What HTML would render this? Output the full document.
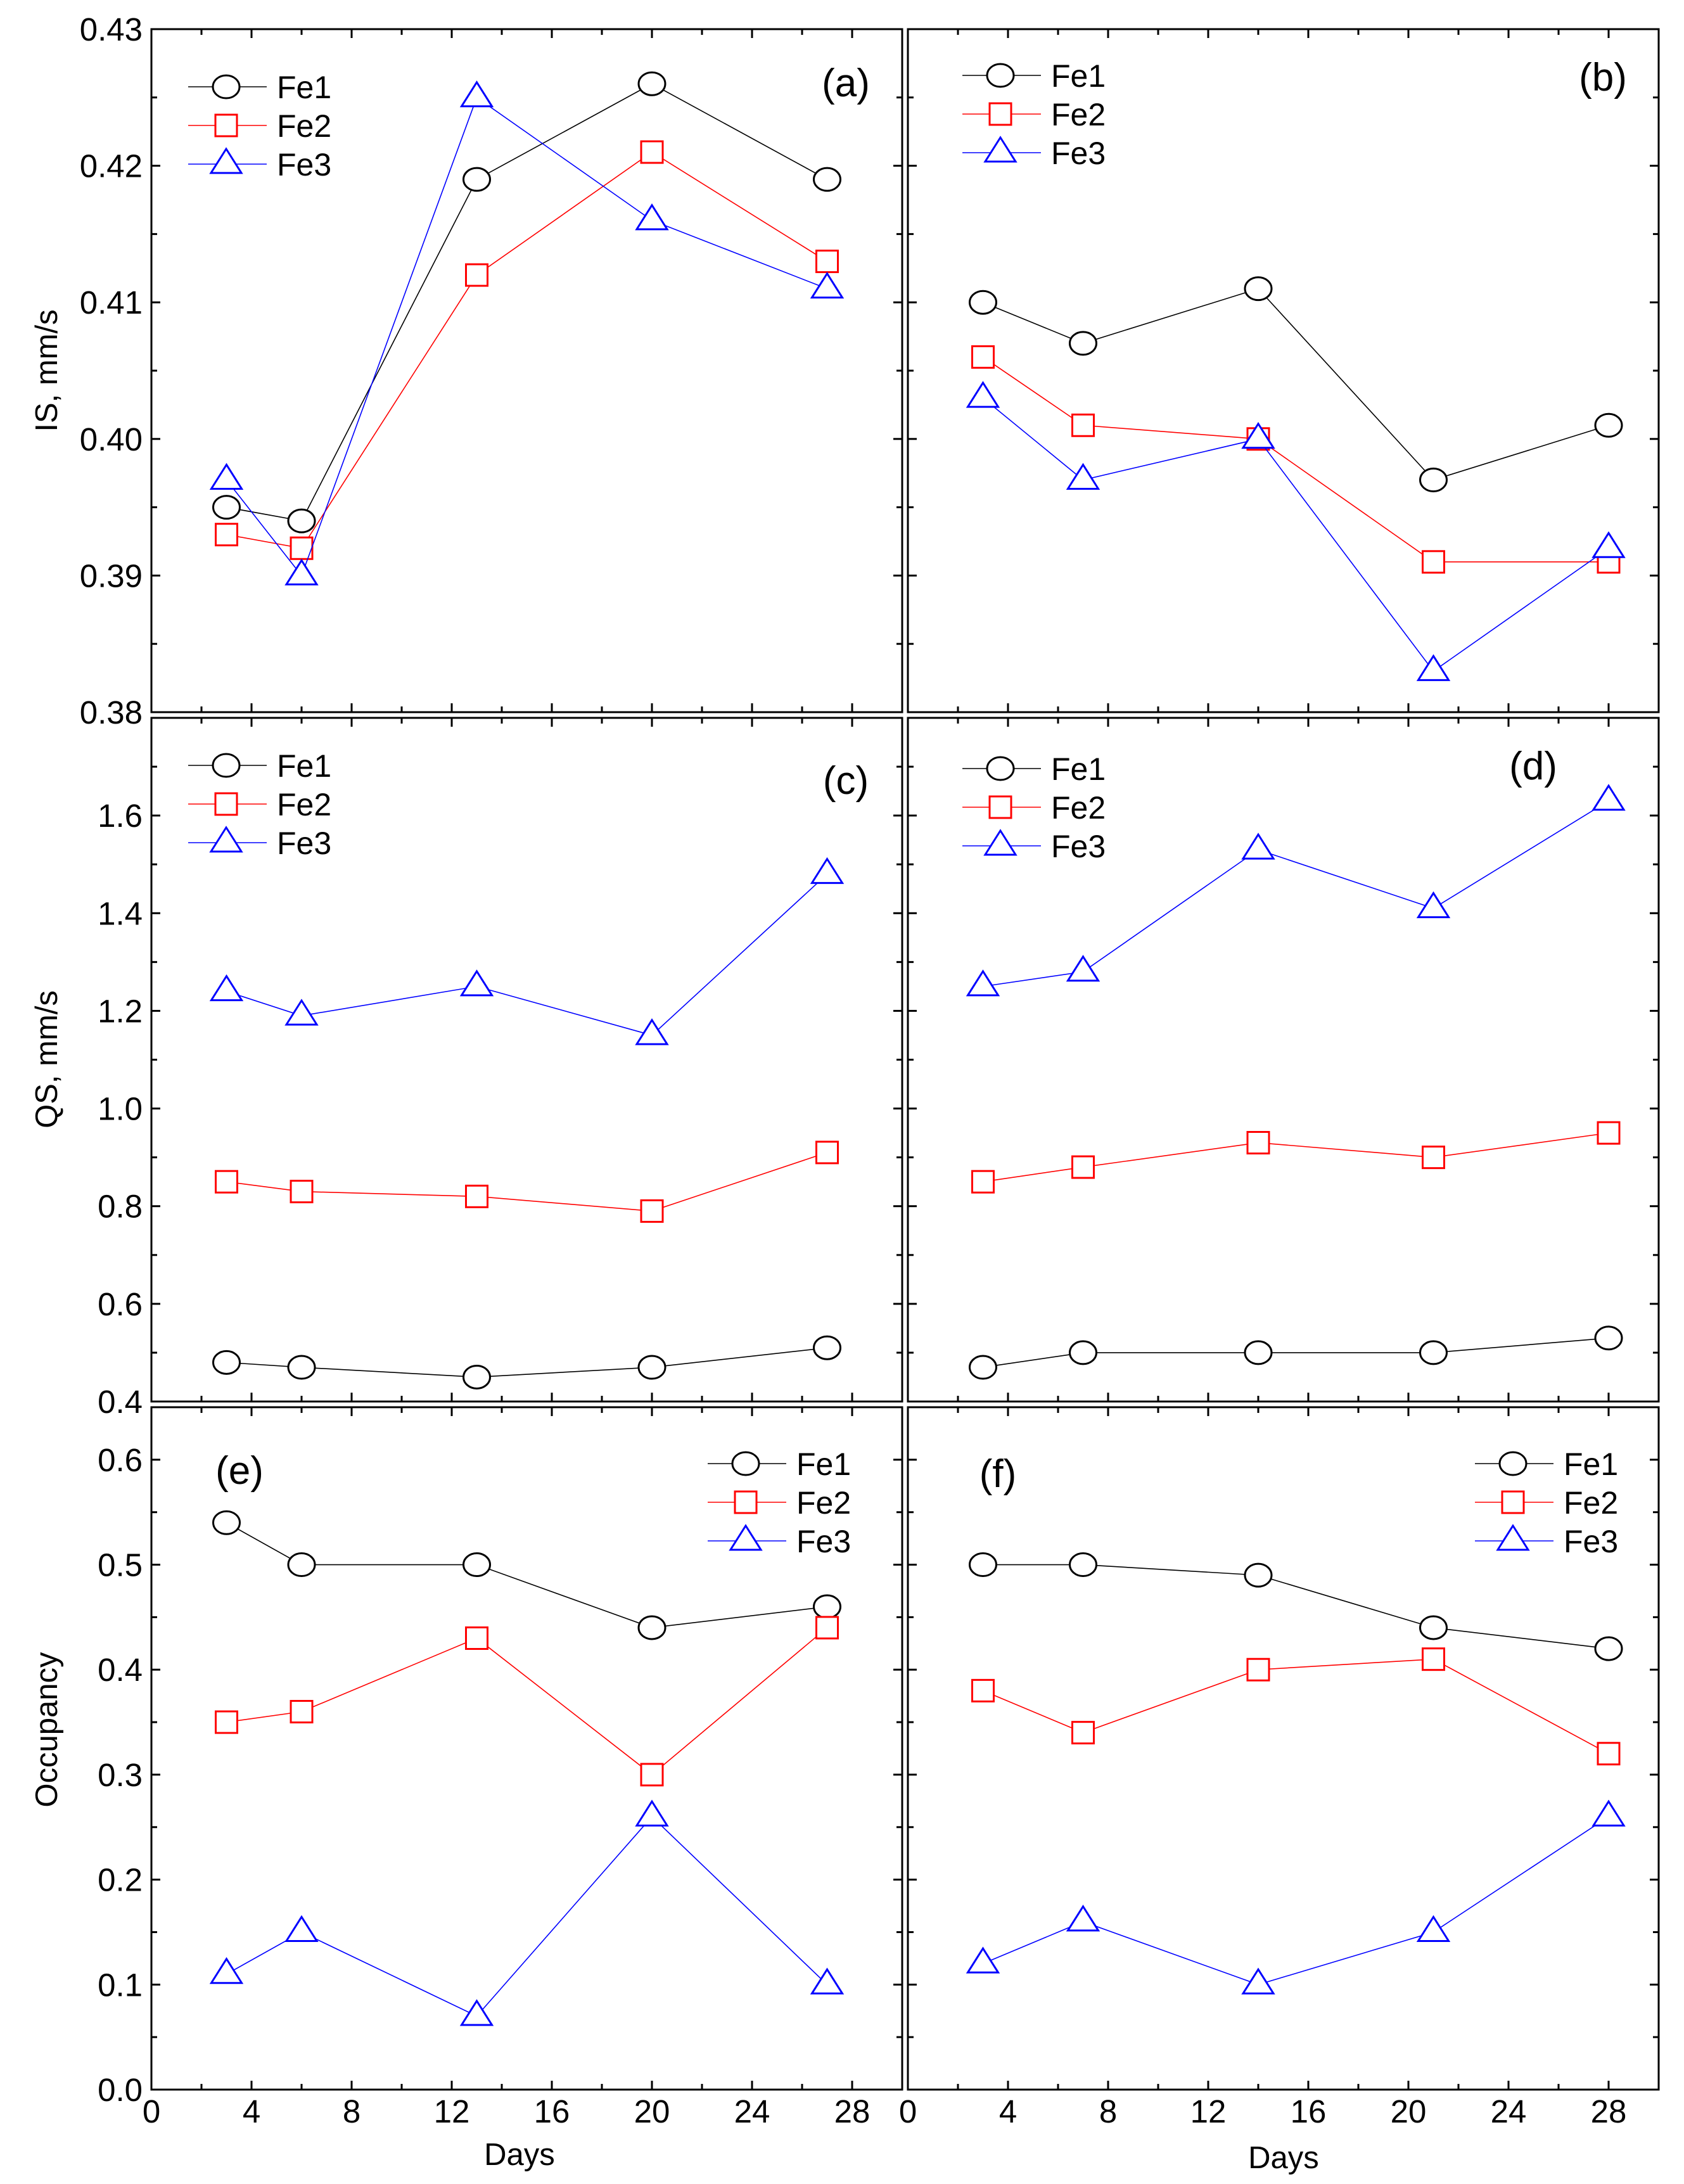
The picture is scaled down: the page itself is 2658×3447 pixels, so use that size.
<!DOCTYPE html>
<html><head><meta charset="utf-8">
<style>
html,body{margin:0;padding:0;background:#fff;}
svg{display:block;font-family:"Liberation Sans",Arial,sans-serif;}
</style></head>
<body>
<svg id="fig" xmlns="http://www.w3.org/2000/svg" width="2658" height="3447" viewBox="0 0 2658 3447">
<rect width="2658" height="3447" fill="#fff"/>
</svg>
<script>
const daysA = [3, 6, 13, 20, 27];
const daysB = [3, 7, 14, 21, 28];
const isA_Fe1 = [0.395, 0.394, 0.419, 0.426, 0.419];
const isA_Fe2 = [0.393, 0.392, 0.412, 0.421, 0.413];
const isA_Fe3 = [0.397, 0.390, 0.425, 0.416, 0.411];
const isB_Fe1 = [0.410, 0.407, 0.411, 0.397, 0.401];
const isB_Fe2 = [0.406, 0.401, 0.400, 0.391, 0.391];
const isB_Fe3 = [0.403, 0.397, 0.400, 0.383, 0.392];
const qsC_Fe1 = [0.48, 0.47, 0.45, 0.47, 0.51];
const qsC_Fe2 = [0.85, 0.83, 0.82, 0.79, 0.91];
const qsC_Fe3 = [1.24, 1.19, 1.25, 1.15, 1.48];
const qsD_Fe1 = [0.47, 0.50, 0.50, 0.50, 0.53];
const qsD_Fe2 = [0.85, 0.88, 0.93, 0.90, 0.95];
const qsD_Fe3 = [1.25, 1.28, 1.53, 1.41, 1.63];
const occE_Fe1 = [0.54, 0.50, 0.50, 0.44, 0.46];
const occE_Fe2 = [0.35, 0.36, 0.43, 0.30, 0.44];
const occE_Fe3 = [0.11, 0.15, 0.07, 0.26, 0.10];
const occF_Fe1 = [0.50, 0.50, 0.49, 0.44, 0.42];
const occF_Fe2 = [0.38, 0.34, 0.40, 0.41, 0.32];
const occF_Fe3 = [0.12, 0.16, 0.10, 0.15, 0.26];
const xTicks = [0, 4, 8, 12, 16, 20, 24, 28];
const isTicks = ["0.38", "0.39", "0.40", "0.41", "0.42", "0.43"];
const qsTicks = ["0.4", "0.6", "0.8", "1.0", "1.2", "1.4", "1.6"];
const occTicks = ["0.0", "0.1", "0.2", "0.3", "0.4", "0.5", "0.6"];
const seriesNames = ["Fe1", "Fe2", "Fe3"];

const NS = "http://www.w3.org/2000/svg";
const svg = document.getElementById("fig");
function mk(tag, attrs, parent, text) {
  const e = document.createElementNS(NS, tag);
  for (const k in attrs) e.setAttribute(k, attrs[k]);
  if (text !== undefined) e.textContent = text;
  (parent || svg).appendChild(e);
  return e;
}
const colors = ["#000", "#ff0000", "#0000ff"];
const cols = [[239, 1424], [1433, 2618]];
const rows = [[46, 1124], [1133, 2212], [2221, 3298]];

function marker(g, type, cx, cy, color) {
  let m;
  if (type === 0) m = mk("ellipse", {cx: cx, cy: cy, rx: 21, ry: 18, fill: "#fff", stroke: color, "stroke-width": 3}, g);
  else if (type === 1) m = mk("rect", {x: cx - 17, y: cy - 17, width: 34, height: 34, fill: "#fff", stroke: color, "stroke-width": 3}, g);
  else m = mk("polygon", {points: (cx - 24) + "," + (cy + 14) + " " + (cx + 24) + "," + (cy + 14) + " " + cx + "," + (cy - 24), fill: "#fff", stroke: color, "stroke-width": 3}, g);
  
  
}

function panel(opts) {
  const [x0, x1] = cols[opts.col];
  const [y0, y1] = rows[opts.row];
  const g = mk("g", {});
  
  
  const sx = v => x0 + (v - 0) / 30 * (x1 - x0);
  const sy = v => y1 - (v - opts.ymin) / (opts.ymax - opts.ymin) * (y1 - y0);
  for (let v = 2; v < 30; v += 2) {
    const major = v % 4 === 0;
    const L = major ? 14 : 9;
    mk("line", {x1: sx(v), x2: sx(v), y1: y1, y2: y1 - L, stroke: "#000", "stroke-width": 3}, g);
    mk("line", {x1: sx(v), x2: sx(v), y1: y0, y2: y0 + L, stroke: "#000", "stroke-width": 3}, g);
  }
  const step = opts.ystep;
  for (let i = 1; ; i++) {
    const v = opts.ymin + i * step / 2;
    if (v >= opts.ymax - 1e-9) break;
    const L = i % 2 === 0 ? 14 : 9;
    mk("line", {x1: x0, x2: x0 + L, y1: sy(v), y2: sy(v), stroke: "#000", "stroke-width": 3}, g);
    mk("line", {x1: x1, x2: x1 - L, y1: sy(v), y2: sy(v), stroke: "#000", "stroke-width": 3}, g);
  }
  const fr = mk("rect", {x: x0, y: y0, width: x1 - x0, height: y1 - y0, fill: "none", stroke: "#000", "stroke-width": 3}, g);
  
  
  if (opts.ylabels) {
    opts.ylabels.forEach(t => {
      const tx = mk("text", {x: x0 - 14, y: sy(parseFloat(t)) + 18, "text-anchor": "end", "font-size": 51}, g, t);
      
      
    });
  }
  if (opts.xlabels) {
    xTicks.forEach(t => {
      const tx = mk("text", {x: sx(t), y: 3350, "text-anchor": "middle", "font-size": 51}, g, String(t));
      
      
    });
  }
  opts.series.forEach((ys, si) => {
    const sg = mk("g", {}, g);
    
    
    const pts = opts.x.map((d, i) => sx(d) + "," + sy(ys[i])).join(" ");
    const pl = mk("polyline", {points: pts, fill: "none", stroke: colors[si], "stroke-width": 1.6}, sg);
    
    
    opts.x.forEach((d, i) => marker(sg, si, sx(d), sy(ys[i]), colors[si]));
  });
  const lg = mk("g", {}, g);
  
  
  seriesNames.forEach((n, si) => {
    const ly = opts.leg[1] + si * 61;
    const lx = opts.leg[0];
    const eg = mk("g", {}, lg);
    
    
    mk("line", {x1: lx, x2: lx + 124, y1: ly, y2: ly, stroke: colors[si], "stroke-width": 1.6}, eg);
    marker(eg, si, lx + 60, ly, colors[si]);
    mk("text", {x: lx + 140, y: ly + 18, "font-size": 50}, eg, n);
  });
  const pl = mk("text", {x: opts.lab[0], y: opts.lab[1], "text-anchor": "middle", "font-size": 62}, g, "(" + opts.id + ")");
  
  
}

panel({id: "a", col: 0, row: 0, ymin: 0.38, ymax: 0.43, ystep: 0.01, x: daysA, series: [isA_Fe1, isA_Fe2, isA_Fe3], ylabels: isTicks, leg: [297, 137], lab: [1335, 152]});
panel({id: "b", col: 1, row: 0, ymin: 0.38, ymax: 0.43, ystep: 0.01, x: daysB, series: [isB_Fe1, isB_Fe2, isB_Fe3], leg: [1519, 119], lab: [2530, 143]});
panel({id: "c", col: 0, row: 1, ymin: 0.4, ymax: 1.8, ystep: 0.2, x: daysA, series: [qsC_Fe1, qsC_Fe2, qsC_Fe3], ylabels: qsTicks, leg: [297, 1208], lab: [1335, 1253]});
panel({id: "d", col: 1, row: 1, ymin: 0.4, ymax: 1.8, ystep: 0.2, x: daysB, series: [qsD_Fe1, qsD_Fe2, qsD_Fe3], leg: [1519, 1213], lab: [2420, 1230]});
panel({id: "e", col: 0, row: 2, ymin: 0, ymax: 0.65, ystep: 0.1, x: daysA, series: [occE_Fe1, occE_Fe2, occE_Fe3], ylabels: occTicks, xlabels: true, leg: [1117, 2310], lab: [378, 2342]});
panel({id: "f", col: 1, row: 2, ymin: 0, ymax: 0.65, ystep: 0.1, x: daysB, series: [occF_Fe1, occF_Fe2, occF_Fe3], xlabels: true, leg: [2328, 2310], lab: [1575, 2347]});

function title(txt, x, y, rot, name) {
  const t = mk("text", {x: x, y: y, "text-anchor": "middle", "font-size": 49, transform: rot ? "rotate(-90 " + x + " " + y + ")" : ""}, svg, txt);
  
  
}
title("IS, mm/s", 90, 585, true, "y-axis-title-is");
title("QS, mm/s", 90, 1672, true, "y-axis-title-qs");
title("Occupancy", 90, 2730, true, "y-axis-title-occupancy");
title("Days", 820, 3417, false, "x-axis-title-left");
title("Days", 2026, 3422, false, "x-axis-title-right");
</script>
</body></html>
